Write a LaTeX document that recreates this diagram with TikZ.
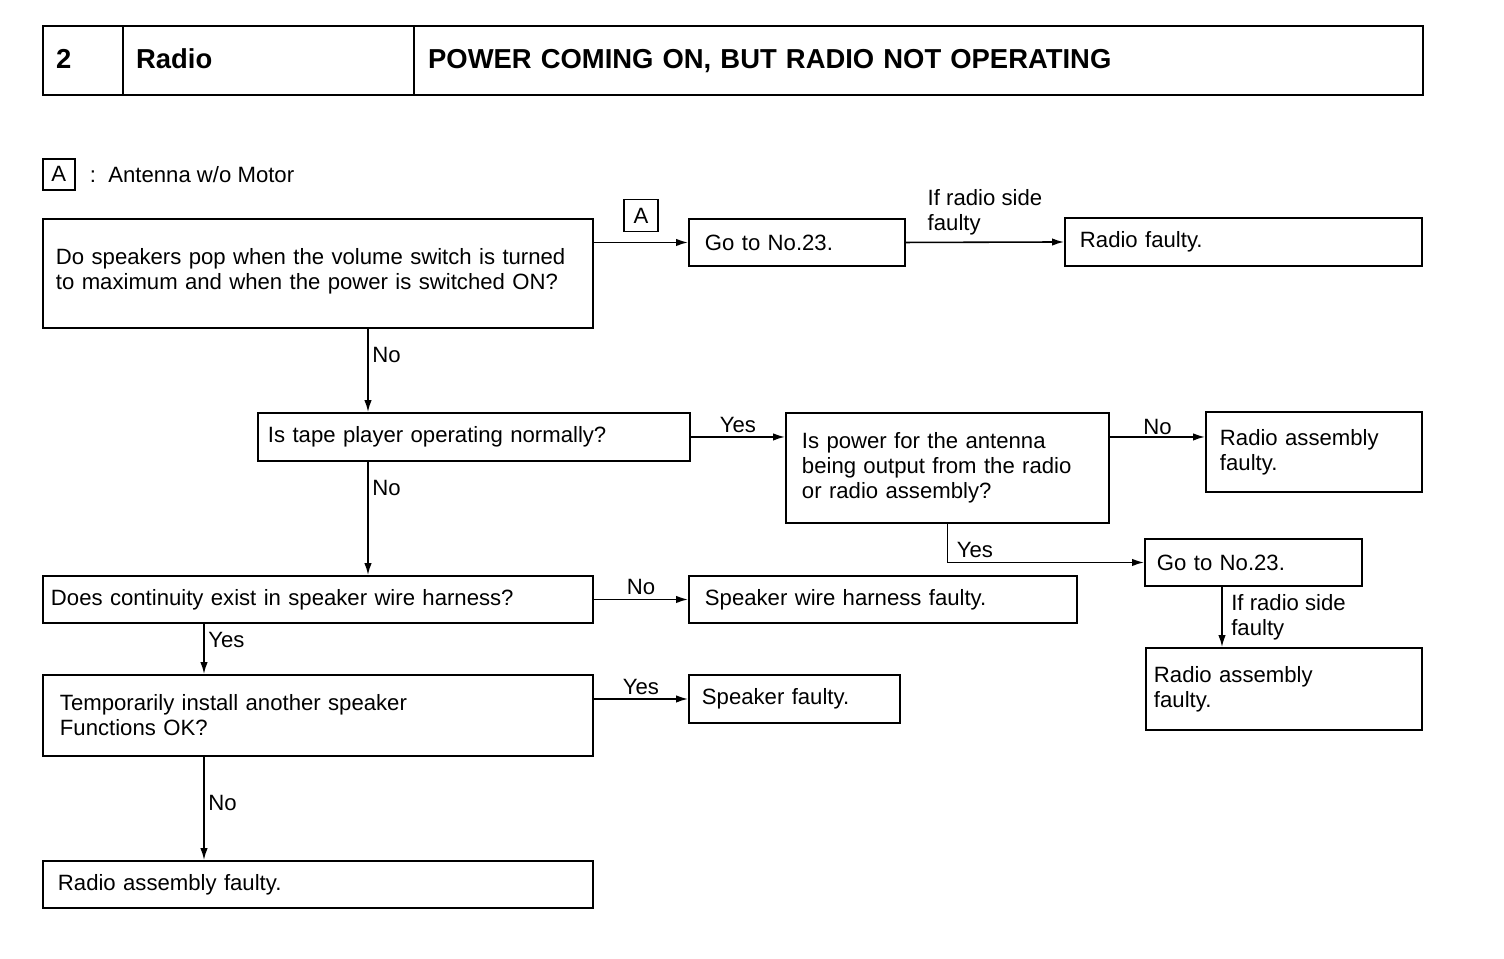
\documentclass[tikz,border=0pt]{standalone}
\usepackage{fontspec}
\setmainfont{Liberation Sans}
\usetikzlibrary{arrows.meta,positioning}

\begin{document}
\begin{tikzpicture}[x=0.02cm, y=-0.02cm,
  box/.style={draw, line width=1.1pt, anchor=north west, align=left, inner ysep=0pt, font=\fontsize{12.6}{14.2}\selectfont},
  head/.style={box, line width=1.3pt, minimum height=1.38cm, text height=11.2pt, text depth=2.8pt, font=\fontsize{15.6}{18}\selectfont\bfseries},
  arr/.style={line width=0.9pt, -{Latex[length=2.4mm, width=1.5mm]}},
  lab/.style={inner sep=2pt, align=left, font=\fontsize{12.6}{14.2}\selectfont}]
  \useasboundingbox (0,0) rectangle (1504,958);

  % header
  \node[head, inner xsep=0.26cm, text width=1.08cm] (h1) at (42,25) {2};
  \node[head, inner xsep=0.26cm, text width=5.30cm] (h2) at (122,25) {Radio};
  \node[head, inner xsep=0.28cm, text width=19.62cm] (h3) at (413,25) {POWER COMING ON, BUT RADIO NOT OPERATING};

  % legend
  \node[box, line width=0.9pt, minimum width=0.64cm, minimum height=0.62cm, inner sep=0pt] (la) at (42,158) {A};
  \node[lab, right=0.28cm of la, inner sep=0pt] (lt) {:\ \ Antenna w/o Motor};

  % helper columns
  \coordinate (c1) at (368,0);
  \coordinate (c2) at (204,0);
  \coordinate (c4) at (1222,0);

  % boxes
  \node[box, inner xsep=0.26cm, text width=10.48cm, minimum height=2.18cm] (q1) at (42,218)
    {Do speakers pop when the volume switch is turned\\to maximum and when the power is switched ON?\vspace{3pt}};
  \node[box, inner xsep=0.32cm, text width=3.68cm, minimum height=0.94cm] (g1) at (688,218) {Go to No.23.};
  \node[box, inner xsep=0.30cm, text width=6.54cm, minimum height=0.96cm] (r1) at (1064,217) {Radio faulty.};
  \node[box, inner xsep=0.20cm, text width=8.24cm, minimum height=0.96cm] (q2) at (257,412) {Is tape player operating normally?};
  \node[box, inner xsep=0.32cm, text width=5.82cm, minimum height=2.20cm] (q3) at (785,412)
    {Is power for the antenna\\being output from the radio\\or radio assembly?};
  \node[box, inner xsep=0.28cm, text width=3.76cm, minimum height=1.60cm] (r2) at (1205,411) {Radio assembly\\faulty.};
  \node[box, inner xsep=0.24cm, text width=3.86cm, minimum height=0.94cm] (g2) at (1144,538) {Go to No.23.};
  \node[box, inner xsep=0.16cm, text width=5.20cm, minimum height=1.64cm] (r3) at (1145,647) {Radio assembly\\faulty.};
  \node[box, inner xsep=0.16cm, text width=10.68cm, minimum height=0.94cm] (q4) at (42,575) {Does continuity exist in speaker wire harness?};
  \node[box, inner xsep=0.32cm, text width=7.12cm, minimum height=0.94cm] (r4) at (688,575) {Speaker wire harness faulty.};
  \node[box, inner xsep=0.34cm, text width=10.32cm, minimum height=1.62cm] (q5) at (42,674)
    {Temporarily install another speaker\\Functions OK?};
  \node[box, inner xsep=0.26cm, text width=3.70cm, minimum height=0.96cm] (r5) at (688,674) {Speaker faulty.};
  \node[box, inner xsep=0.30cm, text width=10.40cm, minimum height=0.94cm] (r6) at (42,860) {Radio assembly faulty.};

  % connectors
  \draw[arr] (q1.east |- g1.west) -- node[above=0.2cm, draw, line width=0.9pt, minimum width=0.68cm, minimum height=0.64cm, inner sep=0pt, font=\fontsize{12.6}{14.2}\selectfont] (ka) {A} (g1.west);
  \draw[arr] (g1.east) -- node[lab, above, yshift=0.06cm] (l1) {If radio side\\faulty} (r1.west);
  \draw[arr] (q1.south -| c1) -- node[lab, right, pos=0.31] (l2) {No} (q2.north -| c1);
  \draw[arr] (q2.east) -- node[lab, above] (l3) {Yes} (q2.east -| q3.west);
  \draw[arr] (q3.east |- q2.east) -- node[lab, above, inner sep=1pt] (l4) {No} (r2.west |- q2.east);
  \draw[arr] (q3.south) |- node[lab, pos=0.5, above right, xshift=0.1cm] (l5) {Yes} (g2.west);
  \draw[arr] (g2.south -| c4) -- node[lab, right, xshift=0.1cm] (l6) {If radio side\\faulty} (r3.north -| c4);
  \draw[arr] (q2.south -| c1) -- node[lab, right, pos=0.23] (l7) {No} (q4.north -| c1);
  \draw[arr] (q4.east) -- node[lab, above] (l8) {No} (r4.west);
  \draw[arr] (q4.south -| c2) -- node[lab, right, pos=0.33] (l9) {Yes} (q5.north -| c2);
  \draw[arr] (q5.east |- r5.west) -- node[lab, above] (l10) {Yes} (r5.west);
  \draw[arr] (q5.south -| c2) -- node[lab, right, pos=0.45] (l11) {No} (r6.north -| c2);
\end{tikzpicture}
\end{document}
